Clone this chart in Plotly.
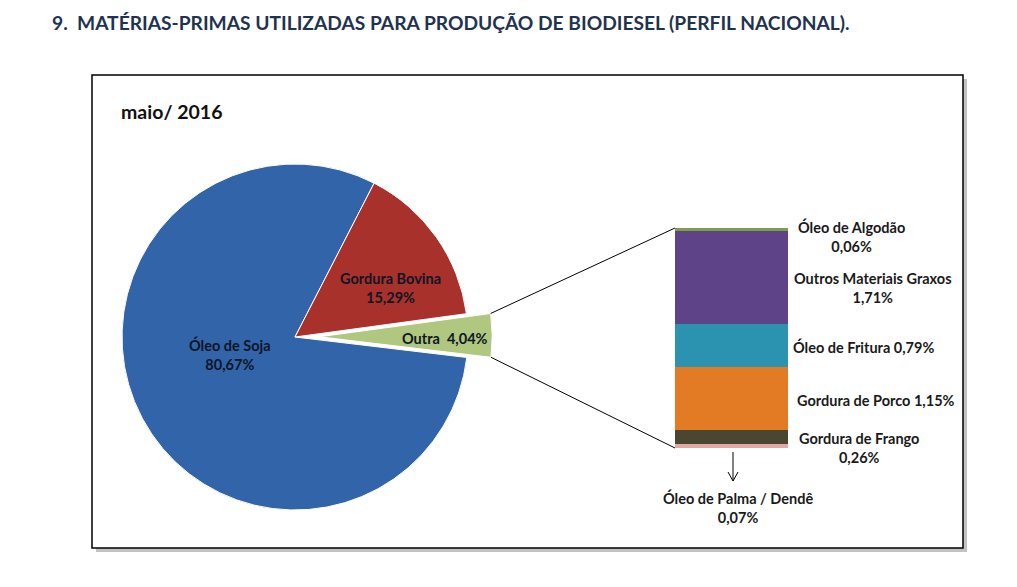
import math
import plotly.graph_objects as go

# Page has an 8px body margin; the figure is sized/positioned to compensate.
OFF = 8
W, H = 1017 - OFF, 587 - OFF

# ---------------- data ----------------
pie_labels = ["Óleo de Soja", "Gordura Bovina", "Outra"]
pie_values = [80.67, 15.29, 4.04]
pie_colors = ["#3264A9", "#A8312C", "#AFC77F"]

bar_labels = ["Óleo de Palma / Dendê", "Gordura de Frango", "Gordura de Porco",
              "Óleo de Fritura", "Outros Materiais Graxos", "Óleo de Algodão"]
bar_values = [0.07, 0.26, 1.15, 0.79, 1.71, 0.06]
bar_colors = ["#E3A7A6", "#4A4631", "#E27B24", "#2B92B0", "#5F4389", "#7E9E4A"]

title_text = "9.  MATÉRIAS-PRIMAS UTILIZADAS PARA PRODUÇÃO DE BIODIESEL (PERFIL NACIONAL)."
period_text = "maio/ 2016"

def fmt(v):
    return f"{v:.2f}".replace(".", ",") + "%"

# helpers converting window pixel coords -> paper coords
def PX(x):
    return (x - OFF) / W
def PY(y):
    return 1 - (y - OFF) / H

# ---------------- layout geometry (window pixels) ----------------
FONT = "Lato"
pie_cx, pie_cy, pie_r = 295, 337, 173
pull = 0.14
half = pie_r * (1 + pull)
pie_dom_x = [PX(pie_cx - half), PX(pie_cx + half)]
pie_dom_y = [PY(pie_cy + half), PY(pie_cy - half)]

bar_x0, bar_x1 = 675, 788
bar_ytop, bar_ybot = 228, 448
bar_dom_x = [PX(bar_x0), PX(bar_x1)]
bar_dom_y = [PY(bar_ybot), PY(bar_ytop)]

total_other = sum(bar_values)

# rotation (clockwise from 12 o'clock): Soja starts where Outra ends, just below 3 o'clock
rotation = 96.8

fig = go.Figure()
fig.add_trace(go.Pie(
    labels=pie_labels, values=pie_values, sort=False, direction="clockwise",
    rotation=rotation, pull=[0, 0, pull],
    marker=dict(colors=pie_colors, line=dict(color="white", width=1)),
    textinfo="none", hoverinfo="label+value", showlegend=False,
    domain=dict(x=pie_dom_x, y=pie_dom_y),
))

for lab, val, col in zip(bar_labels, bar_values, bar_colors):
    fig.add_trace(go.Bar(
        x=[0], y=[val], name=lab, marker=dict(color=col, line=dict(width=0)),
        width=1, showlegend=False, xaxis="x", yaxis="y",
    ))

# ---------------- annotations ----------------
ann = []
def px_ann(x, y, text, size=14.5, color="#1A1A1A", xanchor="center"):
    ann.append(dict(x=PX(x), y=PY(y), xref="paper", yref="paper", text=text,
                    showarrow=False, xanchor=xanchor, yanchor="middle",
                    font=dict(family=FONT, size=size, color=color)))

px_ann(50, 22, f"<b>{title_text}</b>", size=19.2, color="#1F3350", xanchor="left")
px_ann(119, 111, f"<b>{period_text}</b>", size=19.5, color="#111111", xanchor="left")

# pie labels
pie_label_pos = [(230, 354), (390, 288), (445, 338)]
for i, (lab, val) in enumerate(zip(pie_labels, pie_values)):
    x, y = pie_label_pos[i]
    if lab == "Outra":
        txt = f"<b>{lab}  {fmt(val)}</b>"
    else:
        txt = f"<b>{lab}<br>{fmt(val)}</b>"
    px_ann(x, y, txt, color="#0E1626")

# bar labels
bar_label_cfg = {
    "Óleo de Algodão": (851, 237, "br"),
    "Outros Materiais Graxos": (873, 288, "br"),
    "Óleo de Fritura": (863, 347, "inline"),
    "Gordura de Porco": (876, 400, "inline"),
    "Gordura de Frango": (859, 448, "br"),
    "Óleo de Palma / Dendê": (738, 507, "br"),
}
for lab, val in zip(bar_labels, bar_values):
    x, y, mode = bar_label_cfg[lab]
    if mode == "br":
        txt = f"<b>{lab}<br>{fmt(val)}</b>"
    else:
        txt = f"<b>{lab} {fmt(val)}</b>"
    px_ann(x, y, txt)

# ---------------- shapes ----------------
shapes = []
box = (92, 75, 963, 548)
shapes.append(dict(type="rect", xref="paper", yref="paper",
                   x0=PX(box[0] + 4), x1=PX(box[2] + 4),
                   y0=PY(box[3] + 4), y1=PY(box[1] + 4),
                   line=dict(width=0), fillcolor="rgba(120,120,120,0.45)", layer="below"))
shapes.append(dict(type="rect", xref="paper", yref="paper",
                   x0=PX(box[0]), x1=PX(box[2]), y0=PY(box[3]), y1=PY(box[1]),
                   line=dict(color="#000000", width=1.5), fillcolor="white", layer="below"))

# connector lines from pulled Outra slice corners to bar top/bottom
start_outra_cw = rotation - pie_values[2] / sum(pie_values) * 360.0
end_outra_cw = rotation
mid_cw = (start_outra_cw + end_outra_cw) / 2
def cw_to_xy(a_deg, r, ox=0, oy=0):
    a = math.radians(a_deg)
    return ox + r * math.sin(a), oy - r * math.cos(a)
offx, offy = cw_to_xy(mid_cw, pull * pie_r)
top_corner = cw_to_xy(start_outra_cw, pie_r, pie_cx + offx, pie_cy + offy)
bot_corner = cw_to_xy(end_outra_cw, pie_r, pie_cx + offx, pie_cy + offy)
for (px, py), by in [(top_corner, bar_ytop), (bot_corner, bar_ybot)]:
    shapes.append(dict(type="line", xref="paper", yref="paper",
                       x0=PX(px), y0=PY(py), x1=PX(bar_x0), y1=PY(by),
                       line=dict(color="#000000", width=1)))

# arrow pointing to the Palma segment label
ax_px = 733
shapes.append(dict(type="path", xref="paper", yref="paper",
                   path=(f"M {PX(ax_px)},{PY(452)} L {PX(ax_px)},{PY(481)} "
                         f"M {PX(ax_px - 5)},{PY(472)} L {PX(ax_px)},{PY(481)} "
                         f"L {PX(ax_px + 5)},{PY(472)}"),
                   line=dict(color="#000000", width=1)))

fig.update_layout(
    width=W, height=H, margin=dict(l=0, r=0, t=0, b=0),
    paper_bgcolor="white", plot_bgcolor="rgba(0,0,0,0)",
    barmode="stack", bargap=0,
    xaxis=dict(domain=bar_dom_x, range=[-0.5, 0.5], visible=False, fixedrange=True),
    yaxis=dict(domain=bar_dom_y, range=[0, total_other], visible=False, fixedrange=True),
    annotations=ann, shapes=shapes,
    font=dict(family=FONT),
)

fig.write_html("out.html")
